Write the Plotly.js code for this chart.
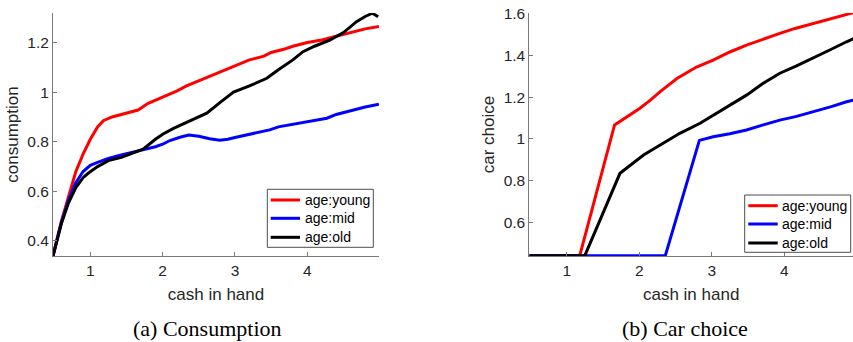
<!DOCTYPE html>
<html>
<head>
<meta charset="utf-8">
<script src="https://cdn.plot.ly/plotly-3.0.1.min.js"></script>
<style>
  html, body { margin: 0; padding: 0; background: #ffffff; }
  #chart { width: 853px; height: 342px; }
</style>
</head>
<body>
<div id="chart"></div>
<script>
// (a) Consumption policy by age group
const consYoungX = [0.484, 0.6, 0.72, 0.8, 0.9, 1.0, 1.1, 1.18, 1.3, 1.5, 1.66, 1.8, 2.0, 2.2, 2.33, 2.5, 2.7, 2.9, 3.0, 3.2, 3.4, 3.5, 3.7, 3.8, 4.0, 4.2, 4.4, 4.6, 4.8, 4.99];
const consYoungY = [0.34, 0.48, 0.6, 0.68, 0.75, 0.81, 0.86, 0.885, 0.9, 0.915, 0.928, 0.955, 0.98, 1.005, 1.025, 1.045, 1.07, 1.095, 1.105, 1.13, 1.145, 1.16, 1.175, 1.185, 1.2, 1.21, 1.225, 1.24, 1.255, 1.265];

const consMidX = [0.484, 0.6, 0.7, 0.8, 0.9, 1.0, 1.1, 1.25, 1.4, 1.6, 1.73, 1.9, 2.0, 2.1, 2.24, 2.36, 2.5, 2.65, 2.79, 2.9, 3.0, 3.2, 3.48, 3.6, 3.8, 4.0, 4.27, 4.4, 4.64, 4.8, 4.99];
const consMidY = [0.34, 0.475, 0.565, 0.635, 0.68, 0.705, 0.717, 0.733, 0.745, 0.758, 0.767, 0.78, 0.79, 0.805, 0.818, 0.827, 0.822, 0.812, 0.806, 0.81, 0.817, 0.83, 0.848, 0.86, 0.87, 0.88, 0.895, 0.91, 0.928, 0.94, 0.951];

const consOldX = [0.484, 0.6, 0.7, 0.8, 0.9, 0.97, 1.1, 1.25, 1.43, 1.6, 1.73, 1.9, 2.0, 2.15, 2.38, 2.61, 2.8, 2.98, 3.2, 3.44, 3.6, 3.8, 3.94, 4.1, 4.31, 4.5, 4.68, 4.8, 4.9, 4.98];
const consOldY = [0.34, 0.47, 0.555, 0.615, 0.655, 0.673, 0.7, 0.724, 0.737, 0.757, 0.77, 0.81, 0.83, 0.854, 0.884, 0.915, 0.96, 1.0, 1.025, 1.056, 1.09, 1.13, 1.163, 1.185, 1.21, 1.24, 1.284, 1.305, 1.318, 1.304];

// (b) Car choice policy by age group
const carYoungX = [0.484, 1.18, 1.66, 1.8, 2.01, 2.15, 2.29, 2.52, 2.79, 3.02, 3.25, 3.48, 3.7, 3.94, 4.15, 4.4, 4.65, 4.86, 5.0];
const carYoungY = [0.44, 0.44, 1.067, 1.1, 1.147, 1.185, 1.227, 1.29, 1.345, 1.378, 1.417, 1.45, 1.478, 1.506, 1.53, 1.554, 1.578, 1.598, 1.61];

const carMidX = [0.484, 2.36, 2.83, 3.02, 3.25, 3.48, 3.7, 3.94, 4.17, 4.4, 4.65, 4.86, 5.0];
const carMidY = [0.44, 0.44, 0.993, 1.01, 1.025, 1.043, 1.066, 1.09, 1.108, 1.13, 1.155, 1.178, 1.19];

const carOldX = [0.484, 1.25, 1.735, 1.9, 2.06, 2.33, 2.56, 2.84, 3.02, 3.25, 3.48, 3.7, 3.94, 4.17, 4.4, 4.65, 4.86, 5.0];
const carOldY = [0.44, 0.44, 0.835, 0.88, 0.923, 0.979, 1.027, 1.075, 1.114, 1.16, 1.21, 1.265, 1.315, 1.35, 1.387, 1.43, 1.466, 1.488];

const seriesNames = ['age:young', 'age:mid', 'age:old'];
const seriesColors = ['#ff0000', '#0000ff', '#000000'];

const xTicks = [1, 2, 3, 4];
const consTicks = [0.4, 0.6, 0.8, 1, 1.2];
const carTicks = [0.6, 0.8, 1, 1.2, 1.4, 1.6];

const captions = ['(a) Consumption', '(b) Car choice'];

const W = 853, H = 342;
const sans = 'Liberation Sans, Arial, sans-serif';
const serif = 'Liberation Serif, Times New Roman, serif';
const ink = '#262626';
const axisGray = '#7a7a7a';

function line(x, y, i, xa, ya) {
  return {
    x: x, y: y, type: 'scatter', mode: 'lines',
    name: seriesNames[i], xaxis: xa, yaxis: ya, showlegend: false,
    line: { color: seriesColors[i], width: 3 }
  };
}

const traces = [
  line(consYoungX, consYoungY, 0, 'x', 'y'),
  line(consMidX, consMidY, 1, 'x', 'y'),
  line(consOldX, consOldY, 2, 'x', 'y'),
  line(carYoungX, carYoungY, 0, 'x2', 'y2'),
  line(carMidX, carMidY, 1, 'x2', 'y2'),
  line(carOldX, carOldY, 2, 'x2', 'y2')
];

function axisBase() {
  return {
    showline: true, linecolor: axisGray, linewidth: 1, mirror: false,
    showgrid: false, zeroline: false,
    ticks: 'inside', ticklen: 4, tickwidth: 1, tickcolor: axisGray,
    tickfont: { family: sans, size: 15.5, color: ink },
    automargin: false
  };
}

// pixel helpers for paper-referenced decorations
const px = v => v / W;
const py = v => 1 - v / H;

// boxed key inside each panel: [box left, box top, box right, box bottom, sample x0, sample x1, text x, row ys]
const keys = [
  { box: [267.3, 189.3, 373.3, 247.3], sx: [270.7, 300], tx: 302.7, rows: [200, 218.3, 237.3] },
  { box: [744.7, 195, 850.7, 252.3], sx: [748.3, 777.7], tx: 780, rows: [205.7, 224, 243] }
];

const shapes = [];
const annotations = [];
keys.forEach(k => {
  shapes.push({
    type: 'rect', xref: 'paper', yref: 'paper', layer: 'above',
    x0: px(k.box[0]), x1: px(k.box[2]), y0: py(k.box[3]), y1: py(k.box[1]),
    fillcolor: '#ffffff', line: { color: '#4d4d4d', width: 1 }
  });
  k.rows.forEach((ry, i) => {
    shapes.push({
      type: 'line', xref: 'paper', yref: 'paper', layer: 'above',
      x0: px(k.sx[0]), x1: px(k.sx[1]), y0: py(ry), y1: py(ry),
      line: { color: seriesColors[i], width: 3 }
    });
    annotations.push({
      text: seriesNames[i], xref: 'paper', yref: 'paper',
      x: px(k.tx), y: py(ry), xanchor: 'left', yanchor: 'middle',
      showarrow: false, font: { family: sans, size: 14, color: '#000000' }
    });
  });
});

annotations.push(
  { text: captions[0], xref: 'paper', yref: 'paper', x: px(207.8), y: py(328),
    xanchor: 'center', yanchor: 'middle', showarrow: false,
    font: { family: serif, size: 22, color: '#000000' } },
  { text: captions[1], xref: 'paper', yref: 'paper', x: px(685), y: py(328),
    xanchor: 'center', yanchor: 'middle', showarrow: false,
    font: { family: serif, size: 22, color: '#000000' } }
);

const yTop = py(13), yBot = py(256);
const titleFont = { family: sans, size: 17, color: ink };

const layout = {
  width: W, height: H,
  margin: { l: 0, r: 0, t: 0, b: 0, pad: 0 },
  paper_bgcolor: '#ffffff', plot_bgcolor: '#ffffff',
  showlegend: false,
  xaxis: Object.assign(axisBase(), {
    domain: [px(53), px(379)], range: [0.484, 4.991], tickvals: xTicks, anchor: 'y',
    title: { text: 'cash in hand', font: titleFont, standoff: 10 }
  }),
  yaxis: Object.assign(axisBase(), {
    domain: [yBot, yTop], range: [0.3395, 1.319], tickvals: consTicks, anchor: 'x',
    title: { text: 'consumption', font: titleFont, standoff: 4 }
  }),
  xaxis2: Object.assign(axisBase(), {
    domain: [px(529.3), 1], range: [0.484, 4.949], tickvals: xTicks, anchor: 'y2',
    title: { text: 'cash in hand', font: titleFont, standoff: 10 }
  }),
  yaxis2: Object.assign(axisBase(), {
    domain: [yBot, yTop], range: [0.4384, 1.604], tickvals: carTicks, anchor: 'x2',
    title: { text: 'car choice', font: titleFont, standoff: 4 }
  }),
  shapes: shapes,
  annotations: annotations
};

Plotly.newPlot('chart', traces, layout, { displayModeBar: false, staticPlot: true });
</script>
</body>
</html>
